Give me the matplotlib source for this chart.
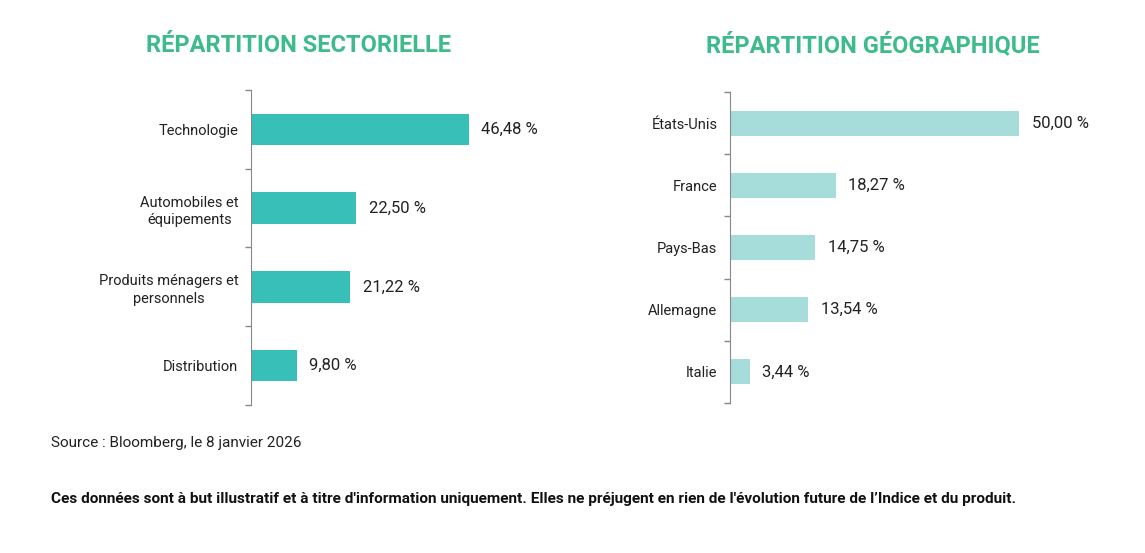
import matplotlib
matplotlib.use("Agg")
import matplotlib.pyplot as plt

# données
secteurs = ["Technologie", "Automobiles et\néquipements", "Produits ménagers et\npersonnels", "Distribution"]
poids_secteurs = [46.48, 22.50, 21.22, 9.80]

pays = ["États-Unis", "France", "Pays-Bas", "Allemagne", "Italie"]
poids_pays = [50.00, 18.27, 14.75, 13.54, 3.44]

plt.rcParams['font.family'] = ['Roboto', 'DejaVu Sans']

W, H = 1145, 553
fig = plt.figure(figsize=(W / 100, H / 100), dpi=100)

vert_titre = '#3dbb8a'
noir = '#222222'


def panneau(rect, labels, valeurs, couleur, xmax):
    ax = fig.add_axes(rect)
    n = len(labels)
    y = list(range(n))
    ax.barh(y, valeurs, height=0.4, color=couleur)
    ax.set_ylim(n - 0.5, -0.5)
    ax.set_xlim(0, xmax)
    ax.set_yticks(y)
    ax.set_yticklabels(labels, fontsize=10.5, color=noir, linespacing=1.35,
                       multialignment='center')
    ax.tick_params(axis='y', which='major', length=0, pad=9)
    ax.set_yticks([i - 0.5 for i in range(n + 1)], minor=True)
    ax.tick_params(axis='y', which='minor', length=4, color='#888888', width=1)
    ax.set_xticks([])
    for s in ['top', 'right', 'bottom']:
        ax.spines[s].set_visible(False)
    ax.spines['left'].set_color('#888888')
    for yi, v in zip(y, valeurs):
        ax.annotate(f"{v:.2f} %".replace('.', ','), (v, yi), xytext=(9, 0),
                    textcoords='offset points', va='center', ha='left',
                    fontsize=12, color=noir, annotation_clip=False)
    return ax


# gauche : 4.69 px par point
panneau([251 / W, 148 / H, 281 / W, 315 / H], secteurs, poids_secteurs, '#38bfb8', 60)
# droite : 5.78 px par point
panneau([730 / W, 150 / H, 347 / W, 311 / H], pays, poids_pays, '#a6dcda', 60)

fig.text(299 / W, 1 - 45 / H, "RÉPARTITION SECTORIELLE", ha='center', va='center',
         fontsize=17, fontweight='bold', color=vert_titre)
fig.text(873 / W, 1 - 45 / H, "RÉPARTITION GÉOGRAPHIQUE", ha='center', va='center',
         fontsize=17, fontweight='bold', color=vert_titre)

fig.text(51 / W, 1 - 443 / H, "Source : Bloomberg, le 8 janvier 2026", ha='left', va='center',
         fontsize=11, color=noir)
fig.text(51 / W, 1 - 499 / H,
         "Ces données sont à but illustratif et à titre d'information uniquement. "
         "Elles ne préjugent en rien de l'évolution future de l’Indice et du produit.",
         ha='left', va='center', fontsize=11.1, fontweight='bold', color='#111111')

fig.savefig("out.png", dpi=100)
